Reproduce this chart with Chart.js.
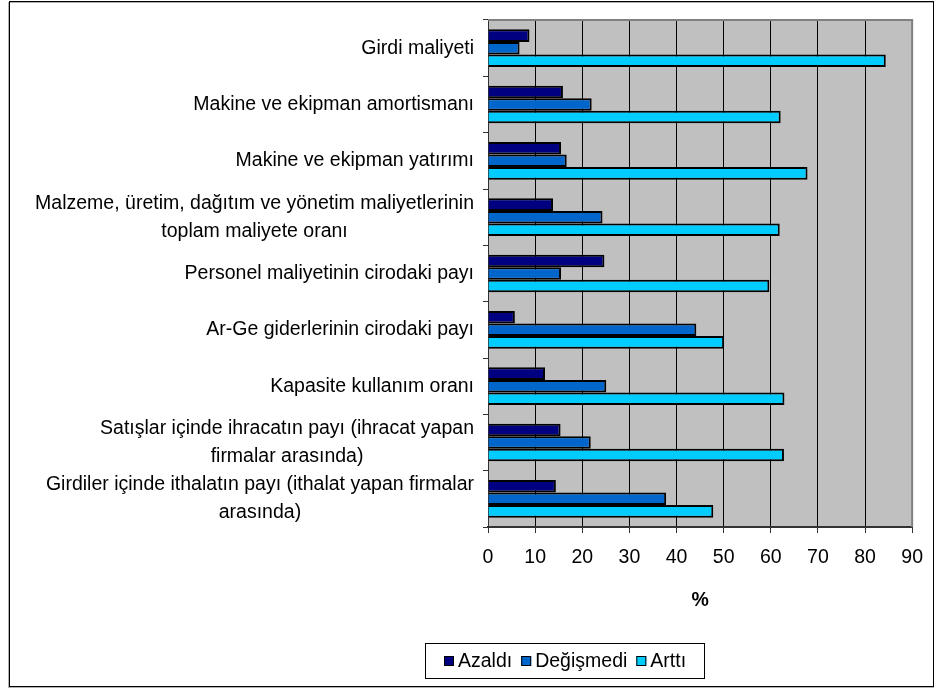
<!DOCTYPE html>
<html>
<head>
<meta charset="utf-8">
<title>Maliyet göstergeleri</title>
<script src="https://cdn.jsdelivr.net/npm/chart.js@4.4.1/dist/chart.umd.min.js"></script>
<style>
    html, body { margin: 0; padding: 0; background: #fff; }
    #chart { display: block; }
</style>
</head>
<body>
<canvas id="chart" width="936" height="689"></canvas>
<script>
// kategoriler (iki satırlık etiketler dizi olarak)
const categories = [
    ['Girdi maliyeti'],
    ['Makine ve ekipman amortismanı'],
    ['Makine ve ekipman yatırımı'],
    ['Malzeme, üretim, dağıtım ve yönetim maliyetlerinin', 'toplam maliyete oranı'],
    ['Personel maliyetinin cirodaki payı'],
    ['Ar-Ge giderlerinin cirodaki payı'],
    ['Kapasite kullanım oranı'],
    ['Satışlar içinde ihracatın payı (ihracat yapan', 'firmalar arasında)'],
    ['Girdiler içinde ithalatın payı (ithalat yapan firmalar', 'arasında)']
];

const seriesNames = ['Azaldı', 'Değişmedi', 'Arttı'];
const azaldi    = [8.8, 15.9, 15.5, 13.8, 24.7, 5.7, 12.1, 15.4, 14.4];
const degismedi = [6.7, 22.0, 16.7, 24.3, 15.5, 44.2, 25.1, 21.8, 37.8];
const artti     = [84.4, 62.1, 67.8, 61.9, 59.7, 50.1, 62.9, 62.8, 47.8];

const xTicks = [0, 10, 20, 30, 40, 50, 60, 70, 80, 90];
const xTitle = '%';

const FONT = '"Liberation Sans", Arial, sans-serif';
const FSIZE = 19.5;
const colors = ['#000080', '#0066CC', '#00CCFF'];

// gri zemin, çerçeveler, sol etiketler ve lejant
const decor = {
    id: 'decor',
    beforeDraw(chart) {
        const { ctx, chartArea: a } = chart;
        ctx.save();
        ctx.fillStyle = '#C0C0C0';
        ctx.fillRect(a.left, a.top, a.right - a.left, a.bottom - a.top);
        ctx.restore();
    },
    afterDraw(chart) {
        const { ctx, chartArea: a } = chart;
        ctx.save();

        // plot alanı üst ve sağ kenar
        ctx.strokeStyle = '#808080';
        ctx.lineWidth = 2;
        ctx.beginPath();
        ctx.moveTo(a.left, a.top);
        ctx.lineTo(a.right, a.top);
        ctx.lineTo(a.right, a.bottom);
        ctx.stroke();

        // dış çerçeve
        ctx.strokeStyle = '#b0b0b0';
        ctx.lineWidth = 1;
        ctx.strokeRect(8.5, 2.5, 925, 685);
        ctx.strokeStyle = '#000';
        ctx.strokeRect(9.5, 1.5, 924, 685);

        // kategori etiketleri: satırlar birbirine göre ortalı, blok sağa dayalı
        const yScale = chart.scales.y;
        ctx.font = FSIZE + 'px ' + FONT;
        ctx.fillStyle = '#000';
        ctx.textAlign = 'center';
        ctx.textBaseline = 'middle';
        const right = a.left - 14;
        const lh = 28;
        categories.forEach((lines, i) => {
            const yc = yScale.getPixelForValue(i);
            const w = Math.max(...lines.map(l => ctx.measureText(l).width));
            const cx = right - w / 2;
            const y0 = yc - (lines.length - 1) * lh / 2;
            lines.forEach((l, j) => ctx.fillText(l, cx, y0 + j * lh));
        });

        // lejant
        const box = { x: 425.5, y: 643.5, w: 279, h: 35 };
        ctx.strokeStyle = '#000';
        ctx.lineWidth = 1;
        ctx.strokeRect(box.x, box.y, box.w, box.h);
        const sq = 10, gapIn = 4, gapOut = 9;
        const widths = chart.data.datasets.map(d => ctx.measureText(d.label).width);
        const total = widths.reduce((s, w) => s + sq + gapIn + w, 0) + gapOut * (widths.length - 1);
        let x = Math.round(box.x + box.w / 2 - total / 2);
        const ly = box.y + box.h / 2;
        ctx.textAlign = 'left';
        chart.data.datasets.forEach((d, i) => {
            ctx.fillStyle = d.backgroundColor;
            ctx.fillRect(x, Math.round(ly - sq / 2), sq, sq);
            ctx.strokeStyle = '#000';
            ctx.strokeRect(x + 0.5, Math.round(ly - sq / 2) + 0.5, sq - 1, sq - 1);
            x += sq + gapIn;
            ctx.fillStyle = '#000';
            ctx.fillText(d.label, x, ly + 1);
            x += widths[i] + gapOut;
        });

        ctx.restore();
    }
};

const seriesData = [azaldi, degismedi, artti];

new Chart(document.getElementById('chart'), {
    type: 'bar',
    data: {
        labels: categories.map(c => c.join(' ')),
        datasets: seriesNames.map((name, i) => ({
            label: name,
            data: seriesData[i],
            backgroundColor: colors[i],
            borderColor: '#000',
            borderWidth: 2,
            categoryPercentage: 0.67,
            barPercentage: 1.0
        }))
    },
    options: {
        indexAxis: 'y',
        responsive: false,
        animation: false,
        devicePixelRatio: 1,
        layout: { padding: { left: 0, top: 20, right: 23, bottom: 69 } },
        plugins: {
            legend: { display: false },
            tooltip: { enabled: false }
        },
        scales: {
            y: {
                type: 'category',
                afterFit: (s) => { s.width = 488; },
                ticks: { display: false },
                grid: {
                    offset: true,
                    drawOnChartArea: false,
                    tickLength: 5,
                    color: '#333'
                },
                border: { color: '#333', width: 1 }
            },
            x: {
                min: 0,
                max: 90,
                afterFit: (s) => { s.height = 93; },
                afterBuildTicks: (s) => { s.ticks = xTicks.map(v => ({ value: v })); },
                ticks: {
                    color: '#000',
                    padding: 13,
                    maxRotation: 0,
                    font: { family: FONT, size: FSIZE }
                },
                grid: {
                    color: (c) => (c.tick && c.tick.value === 90) ? '#808080' : '#000',
                    tickColor: '#333',
                    tickLength: 6,
                    lineWidth: 1
                },
                border: { color: '#333', width: 2 },
                title: {
                    display: true,
                    text: xTitle,
                    color: '#000',
                    padding: { top: 0, bottom: 8 },
                    font: { family: FONT, size: FSIZE, weight: 'bold' }
                }
            }
        }
    },
    plugins: [decor]
});
</script>
</body>
</html>
